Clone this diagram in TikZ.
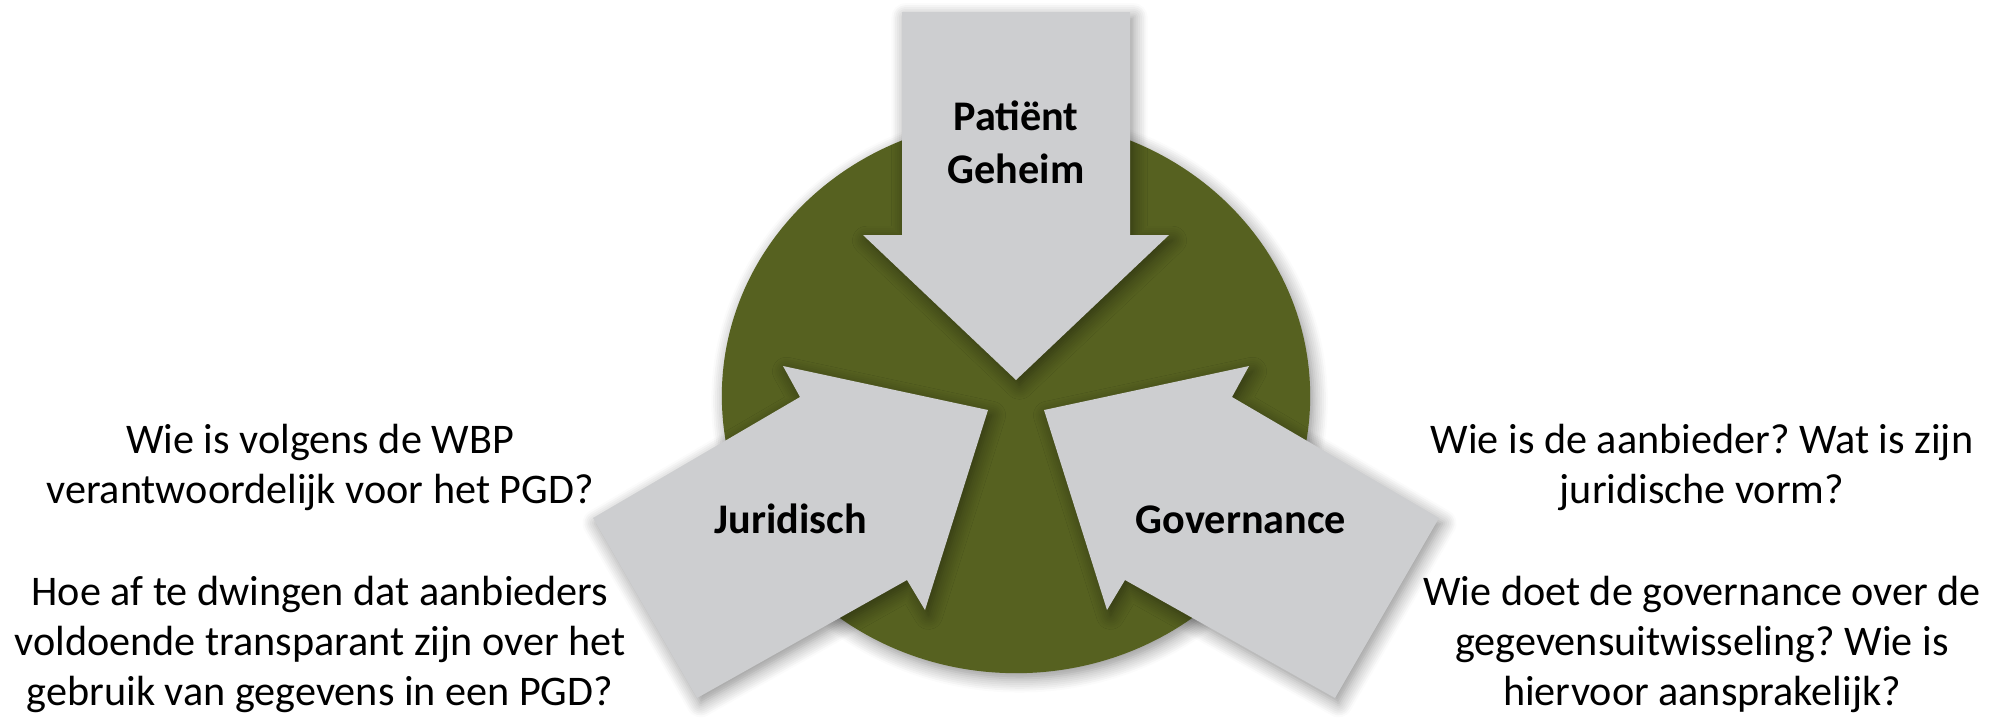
\documentclass[tikz,border=0pt]{standalone}
\usepackage{fontspec}
\setmainfont{Carlito}
\frenchspacing
\usetikzlibrary{shapes,positioning,calc,shadows.blur}

\definecolor{olijf}{RGB}{86,97,32}
\definecolor{pijlgrijs}{RGB}{205,206,208}

\begin{document}
\begin{tikzpicture}
  [x=0.01cm,y=-0.01cm,
   schaduw/.style={blur shadow={shadow blur steps=8,shadow xshift=1pt,shadow yshift=-1.5pt,shadow blur radius=4pt,shadow opacity=45}},
   pijl/.style={fill=pijlgrijs,schaduw},
   pijlTekst/.style={font=\fontsize{12}{15}\selectfont\bfseries,align=center,anchor=base,inner sep=0pt},
   vraag/.style={font=\fontsize{12}{14.2}\selectfont,align=center,anchor=base,inner sep=0pt}]

  \useasboundingbox (0,0) rectangle (2006,717);

  % cirkel
  \fill[olijf,schaduw] (1016,396) ellipse [x radius=2.94cm,y radius=2.77cm];

  % pijlen
  \path[pijl] (902,12) -- (1130,12) -- (1130,235) -- (1169,235) -- (1016,380)
    -- (863,235) -- (902,235) -- cycle;
  \path[pijl] (593,518) -- (800,397) -- (783,366) -- (988,410) -- (925,610)
    -- (907,580) -- (697,698) -- cycle;
  \path[pijl] (1439,518) -- (1232,397) -- (1249,366) -- (1044,410) -- (1107,610)
    -- (1125,580) -- (1335,698) -- cycle;

  % anker = basislijn van de laatste regel
  \node[pijlTekst] (geheim)     at (1016,183) {Patiënt\\Geheim};
  \node[pijlTekst] (juridisch)  at (791,533)  {Juridisch};
  \node[pijlTekst] (governance) at (1241,533) {Governance};

  \node[vraag] (wbp)       at (320,503)  {Wie is volgens de WBP\\verantwoordelijk voor het PGD?};
  \node[vraag] (dwingen)   at (320,705)  {Hoe af te dwingen dat aanbieders\\voldoende transparant zijn over het\\gebruik van gegevens in een PGD?};
  \node[vraag] (aanbieder) at (1702,503) {Wie is de aanbieder? Wat is zijn\\juridische vorm?};
  \node[vraag] (toezicht)  at (1702,705) {Wie doet de governance over de\\gegevensuitwisseling? Wie is\\hiervoor aansprakelijk?};

\end{tikzpicture}
\end{document}
